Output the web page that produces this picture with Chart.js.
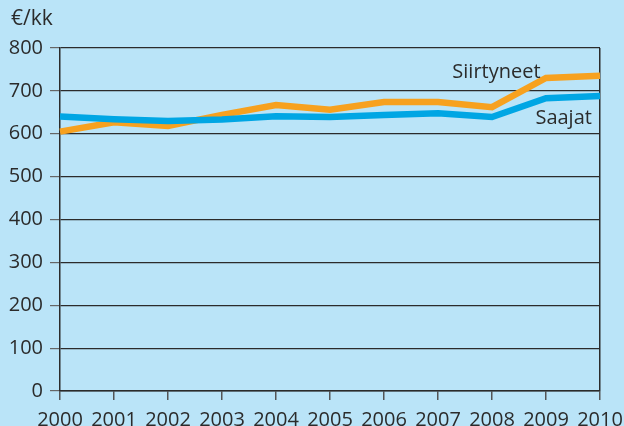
<!DOCTYPE html>
<html>
<head>
<meta charset="utf-8">
<script src="https://cdn.jsdelivr.net/npm/chart.js@4"></script>
<style>
  html, body { margin: 0; padding: 0; background: #bae4f8; }
  #wrap { width: 624px; height: 426px; }
</style>
</head>
<body>
<div id="wrap"><canvas id="myChart" width="624" height="426"></canvas></div>
<script>
const years = ['2000', '2001', '2002', '2003', '2004', '2005', '2006', '2007', '2008', '2009', '2010'];
const siirtyneet = [605, 627, 618, 644, 667, 656, 674, 674, 662, 730, 735];
const saajat = [640, 634, 630, 633, 641, 639, 644, 648, 639, 683, 688];
const yTicks = [0, 100, 200, 300, 400, 500, 600, 700, 800];

const FONT = '"Open Sans", sans-serif';
const INK = '#2b2b2b';

// on-chart labels and the unit text
const textPlugin = {
  id: 'texts',
  afterDatasetsDraw(chart) {
    const ctx = chart.ctx;
    const x = chart.scales.x;
    const y = chart.scales.y;
    ctx.save();
    ctx.fillStyle = INK;
    ctx.textBaseline = 'middle';
    ctx.textAlign = 'left';
    ctx.font = '21px ' + FONT;
    ctx.fillText('€/kk', 11, 19);
    ctx.font = '20px ' + FONT;
    ctx.textAlign = 'right';
    ctx.fillText('Siirtyneet', x.getPixelForValue(8.9), y.getPixelForValue(744));
    ctx.fillText('Saajat', x.getPixelForValue(9.85), y.getPixelForValue(635));
    ctx.restore();
  }
};

const data = {
  labels: years,
  datasets: [
    {
      label: 'Saajat',
      data: saajat,
      borderColor: '#00a6e4',
      backgroundColor: '#00a6e4',
      borderWidth: 6.5,
      pointRadius: 0,
      tension: 0
    },
    {
      label: 'Siirtyneet',
      data: siirtyneet,
      borderColor: '#f7a11f',
      backgroundColor: '#f7a11f',
      borderWidth: 6.5,
      pointRadius: 0,
      tension: 0
    }
  ]
};

const config = {
  type: 'line',
  data: data,
  plugins: [textPlugin],
  options: {
    responsive: false,
    animation: false,
    layout: { padding: { top: 48, right: 24, left: 0, bottom: 0 } },
    plugins: {
      legend: { display: false },
      tooltip: { enabled: false }
    },
    scales: {
      x: {
        grid: {
          color: (c) => c.index === years.length - 1 ? INK : 'rgba(0,0,0,0)',
          tickColor: '#555',
          tickLength: 9,
          lineWidth: 1.5
        },
        border: { color: INK, width: 1.5 },
        ticks: {
          color: INK,
          font: { family: FONT, size: 20 },
          padding: 8,
          maxRotation: 0,
          autoSkip: false
        },
        afterFit(s) {
          s.height = 35;
          s.paddingLeft = 0;
          s.paddingRight = 0;
        }
      },
      y: {
        min: 0,
        max: 800,
        afterBuildTicks(s) { s.ticks = yTicks.map(v => ({ value: v })); },
        grid: {
          color: INK,
          tickColor: '#666',
          tickLength: 10,
          lineWidth: 1.2
        },
        border: { color: INK, width: 1.5 },
        ticks: {
          color: INK,
          font: { family: FONT, size: 20 },
          padding: 7
        },
        afterFit(s) {
          s.width = 60;
          s.paddingTop = 0;
          s.paddingBottom = 0;
        }
      }
    }
  }
};

const myChart = new Chart(document.getElementById('myChart'), config);
</script>
</body>
</html>
